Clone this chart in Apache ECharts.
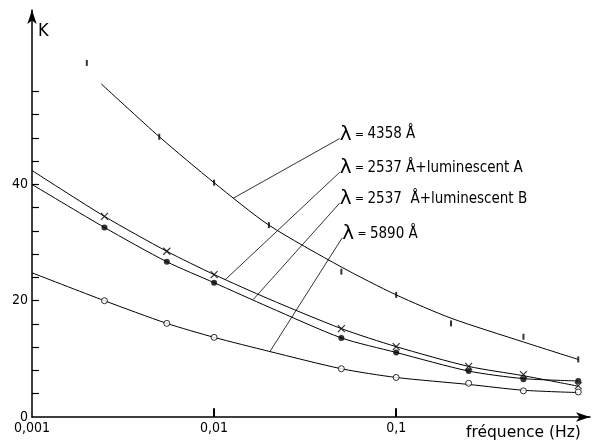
<!DOCTYPE html>
<html>
<head>
<meta charset="utf-8">
<script src="https://cdn.jsdelivr.net/npm/echarts@6/dist/echarts.min.js"></script>
<style>
  html, body { margin: 0; padding: 0; background: #fff; }
  #chart { width: 594px; height: 441px; }
</style>
</head>
<body>
<div id="chart"></div>
<script>
/* frequencies of the measured points (Hz) */
const freqHg = [0.002, 0.005, 0.01, 0.02, 0.05, 0.1, 0.2, 0.5, 1];
const freqPts = [0.0025, 0.0055, 0.01, 0.05, 0.1, 0.25, 0.5, 1];

/* measured K values */
const kHg = [60.9, 48.2, 40.3, 33, 25, 21, 16.1, 13.8, 9.9];   // 4358 A
const kA = [34.5, 28.5, 24.5, 15.2, 12.1, 8.7, 7.3, 5.4];      // 2537 A + luminescent A
const kB = [32.6, 26.7, 23.1, 13.6, 11.1, 7.9, 6.5, 6.2];      // 2537 A + luminescent B
const kNa = [20.0, 16.1, 13.7, 8.3, 6.8, 5.8, 4.5, 4.3];       // 5890 A

/* fitted curves */
const fitFreqHg = [0.0024, 0.005, 0.01, 0.02, 0.05, 0.1, 0.2, 0.5, 1];
const fitHg = [57.3, 48.2, 40.3, 33.0, 25.8, 21.0, 17.0, 12.9, 9.9];
const fitFreq = [0.001, 0.0025, 0.0055, 0.01, 0.02, 0.05, 0.1, 0.25, 0.5, 1];
const fitA = [42.4, 34.5, 28.5, 24.5, 20.3, 15.2, 12.1, 8.7, 7.1, 5.3];
const fitB = [40.0, 32.6, 26.7, 23.1, 18.9, 13.6, 11.1, 7.9, 6.6, 6.2];
const fitNa = [24.8, 20.0, 16.1, 13.7, 11.3, 8.3, 6.8, 5.6, 4.6, 4.2];

/* annotations: label text, leader start (on curve), leader end (at label) */
const labelTexts = ['4358 Å', '2537 Å+luminescent A', '2537  Å+luminescent B', '5890 Å'];
const leaderFrom = [[0.0127, 37.6], [0.0115, 23.6], [0.0164, 20.2], [0.0203, 11.3]];
const leaderTo = [[0.049, 47.9], [0.049, 42.1], [0.049, 36.8], [0.0505, 30.8]];

/* ticks */
const xTicks = [0.01, 0.1];
const xTickLen = 1.5;   // in K units
const xLabels = [0.001, 0.01, 0.1];
const yTicks = [4, 8, 12, 16, 20, 24, 28, 32, 36, 40, 44, 48, 52, 56];
const yLabels = [0, 20, 40];

const FONT = "'Liberation Sans Narrow', 'DejaVu Sans Condensed', sans-serif";
const zip = (xs, ys) => xs.map((x, i) => [x, ys[i]]);

const chart = echarts.init(document.getElementById('chart'), null, { renderer: 'canvas' });

const curve = (xs, ys) => ({
    type: 'line',
    data: zip(xs, ys),
    smooth: 0.25,
    showSymbol: false,
    symbol: 'none',
    lineStyle: { color: '#000', width: 1 },
    silent: true,
    z: 2
});

const points = (xs, ys, symbol, size, fill) => ({
    type: 'scatter',
    data: zip(xs, ys),
    symbol: symbol,
    symbolSize: size,
    itemStyle: fill === 'open'
        ? { color: '#fff', borderColor: '#000', borderWidth: 1 }
        : fill === 'stroke'
            ? { color: 'none', borderColor: '#000', borderWidth: 1.2 }
            : { color: '#000' },
    silent: true,
    z: 4
});

const leaders = labelTexts.map((t, i) => ({
    type: 'line',
    data: [leaderFrom[i], leaderTo[i]],
    showSymbol: false,
    symbol: 'none',
    lineStyle: { color: '#000', width: 0.8 },
    endLabel: {
        show: true,
        distance: 0,
        offset: [0, -4],
        formatter: '{l|λ}{e| = }{t|' + t + '}',
        rich: {
            l: { fontSize: 20, fontFamily: 'DejaVu Sans', color: '#000' },
            e: { fontSize: 12, fontFamily: FONT, color: '#000' },
            t: { fontSize: 15, fontFamily: FONT, color: '#000' }
        }
    },
    silent: true,
    z: 3
}));

/* decade tick marks standing on the x axis, drawn as mark lines */
const xTickMarks = {
    type: 'scatter',
    data: [],
    silent: true,
    z: 5,
    markLine: {
        silent: true,
        symbol: 'none',
        label: { show: false },
        lineStyle: { color: '#000', width: 2, type: 'solid' },
        data: xTicks.map(v => [{ coord: [v, 0] }, { coord: [v, xTickLen] }])
    }
};

const option = {
    backgroundColor: '#fff',
    animation: false,
    grid: { left: 32, right: 4, top: 10, bottom: 23 },
    xAxis: {
        type: 'log',
        min: 0.001,
        max: 1.16,
        name: 'fréquence (Hz)',
        nameLocation: 'end',
        nameGap: -124,
        nameTextStyle: { fontFamily: 'DejaVu Sans', fontSize: 15.5, color: '#000', verticalAlign: 'top', padding: [8, 0, 0, 0] },
        axisLine: { lineStyle: { color: '#000', width: 1.5 }, symbol: ['none', 'arrow'], symbolSize: [7, 14] },
        axisTick: { show: false },
        axisLabel: {
            customValues: xLabels,
            fontFamily: FONT, fontSize: 14, color: '#000', margin: 4,
            formatter: v => String(v).replace('.', ',')
        },
        splitLine: { show: false },
        minorTick: { show: false }
    },
    yAxis: {
        type: 'value',
        min: 0,
        max: 70,
        name: 'K',
        nameLocation: 'end',
        nameGap: -30,
        nameTextStyle: { fontFamily: FONT, fontSize: 18, color: '#000', align: 'left', padding: [0, 0, 0, 6] },
        axisLine: { show: true, onZero: false, lineStyle: { color: '#000', width: 1.5 }, symbol: ['none', 'arrow'], symbolSize: [7, 14] },
        axisTick: { show: true, inside: true, length: 7, customValues: yTicks, lineStyle: { color: '#000', width: 1.2 } },
        axisLabel: { customValues: yLabels, fontFamily: FONT, fontSize: 14, color: '#000', margin: 4 },
        splitLine: { show: false }
    },
    series: [
        curve(fitFreqHg, fitHg),
        curve(fitFreq, fitA),
        curve(fitFreq, fitB),
        curve(fitFreq, fitNa),
        points(freqHg, kHg, 'rect', [2, 6], 'solid'),
        points(freqPts, kA, 'path://M0,0L10,10M10,0L0,10', 7, 'stroke'),
        points(freqPts, kB, 'circle', 6, 'solid'),
        points(freqPts, kNa, 'circle', 6, 'open'),
        xTickMarks,
        ...leaders
    ]
};

chart.setOption(option);
</script>
</body>
</html>
